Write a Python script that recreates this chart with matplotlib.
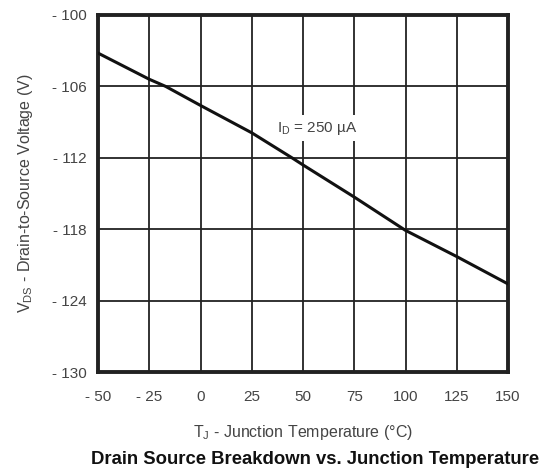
import matplotlib
matplotlib.use("Agg")
import matplotlib.pyplot as plt

temps = [-50, -25, -17, 0, 25, 44.6, 50, 75, 100, 125, 150]
vds = [-103.2, -105.4, -106.0, -107.6, -109.9, -112.0, -112.6, -115.3, -118.1, -120.3, -122.6]

x_ticks = [-50, -25, 0, 25, 50, 75, 100, 125, 150]
y_ticks = [-130, -124, -118, -112, -106, -100]

def fmt(v):
    return f"- {abs(v)}" if v < 0 else f"{v}"

plt.rcParams['font.family'] = ['Liberation Sans', 'DejaVu Sans']

fig = plt.figure(figsize=(5.45, 4.72), dpi=100)
ax = fig.add_axes([98/545, 1-372/472, 410/545, 357/472])

ax.plot(temps, vds, color='#111111', lw=2.2, zorder=3)
ax.set_xlim(-50, 150)
ax.set_ylim(-130, -100)
ax.set_xticks(x_ticks)
ax.set_yticks(y_ticks)
ax.set_xticklabels([fmt(v) for v in x_ticks], fontsize=11, color='#444444')
ax.set_yticklabels([fmt(v) for v in y_ticks], fontsize=11, color='#444444')
ax.tick_params(axis='x', length=0, pad=13)
ax.tick_params(axis='y', length=0, pad=8)
ax.grid(True, color='#222222', lw=1.3)
for s in ax.spines.values():
    s.set_linewidth(2.8)
    s.set_color('#222222')

ax.text(57, -109.5, r"I$_\mathregular{D}$ = 250 µA", fontsize=11, color='#444444',
        ha='center', va='center', zorder=4,
        bbox=dict(facecolor='white', edgecolor='none', pad=3))

ax.set_xlabel(r"T$_\mathregular{J}$ - Junction Temperature (°C)", fontsize=11.5, color='#444444', labelpad=14)
ax.set_ylabel(r"V$_\mathregular{DS}$ - Drain-to-Source Voltage (V)", fontsize=11.5, color='#444444', labelpad=12)
fig.text(315/545, 1-459/472, "Drain Source Breakdown vs. Junction Temperature", fontsize=13.3,
         fontweight='bold', ha='center', va='center', color='#111111')

fig.savefig("out.png", dpi=100)
